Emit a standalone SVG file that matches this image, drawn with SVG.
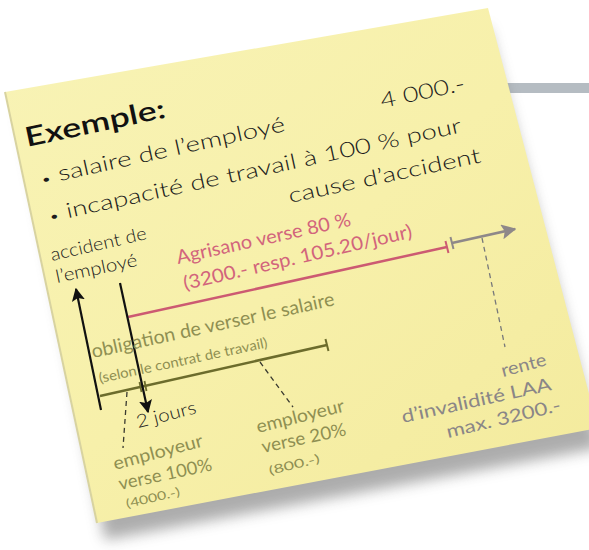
<svg xmlns="http://www.w3.org/2000/svg" width="589" height="550" viewBox="0 0 589 550">
<defs>
<linearGradient id="paper" x1="0" y1="0" x2="1" y2="1">
<stop offset="0" stop-color="#f8f3b6"/>
<stop offset="0.5" stop-color="#f7f0aa"/>
<stop offset="1" stop-color="#f3ea9c"/>
</linearGradient>
<filter id="blur" x="-20%" y="-20%" width="140%" height="140%">
<feGaussianBlur stdDeviation="7"/>
</filter>
<marker id="ahBlack" viewBox="0 0 10 10" refX="9" refY="5" markerWidth="6" markerHeight="6" orient="auto" markerUnits="strokeWidth">
<path d="M0,0 L10,5 L0,10 L2,5 Z" fill="#111"/>
</marker>
<marker id="ahGrey" viewBox="0 0 10 10" refX="9" refY="5" markerWidth="6" markerHeight="6" orient="auto" markerUnits="strokeWidth">
<path d="M0,0 L10,5 L0,10 L2,5 Z" fill="#8e8889"/>
</marker>
<style>
text{font-family:"Lato","Open Sans","DejaVu Sans",sans-serif;font-weight:300;}
.blk{fill:#1c1c1c;font-size:21px;}
.ex{fill:#111;font-size:27px;font-weight:600;}
.pink{fill:#d2647c;font-size:19px;font-weight:400;}
.olv{fill:#8f8f52;font-size:19px;font-weight:400;}
.olvs{fill:#8f8f52;font-size:14px;font-weight:400;}
.olvm{fill:#8f8f52;font-size:18px;font-weight:400;}
.olvx{fill:#8f8f52;font-size:12px;font-weight:400;}
.gry{fill:#8a8687;font-size:18px;font-weight:400;}
.bul{font-size:14px;}
.dash{fill:none;stroke:#3a3a30;stroke-width:1.3;stroke-dasharray:5 4;}
</style>
</defs>
<rect x="500" y="83" width="89" height="10" fill="#b5bcc2"/>
<g id="note">
<polygon points="20,110 488,28 600,448 105,540" fill="#6a6a6a" opacity="0.55" filter="url(#blur)"/>
<polygon points="5,92 488,8 598,428 97,523" fill="url(#paper)"/>
<polyline points="5,92 97,523" fill="none" stroke="#d8d3a0" stroke-width="2"/>
</g>
<g id="connectors">
<line x1="128" y1="317" x2="447" y2="247" stroke="#cc5a72" stroke-width="2.5"/>
<line x1="445.5" y1="241" x2="448.5" y2="253" stroke="#cc5a72" stroke-width="2"/>
<line x1="452" y1="243" x2="515" y2="229" stroke="#8e8889" stroke-width="2.5" marker-end="url(#ahGrey)"/>
<line x1="450.5" y1="237" x2="453.5" y2="249" stroke="#8e8889" stroke-width="2"/>
<line x1="100" y1="396" x2="327" y2="345" stroke="#6c6c2c" stroke-width="2.5"/>
<line x1="325.5" y1="339" x2="328.5" y2="351" stroke="#6c6c2c" stroke-width="2"/>
<line x1="139.5" y1="382" x2="141.5" y2="392" stroke="#6c6c2c" stroke-width="1.8"/>
<line x1="144.5" y1="381" x2="146.5" y2="391" stroke="#6c6c2c" stroke-width="1.8"/>
<line x1="101" y1="410" x2="76" y2="289" stroke="#111" stroke-width="2.2" marker-end="url(#ahBlack)"/>
<line x1="120" y1="283" x2="148" y2="412" stroke="#111" stroke-width="2.2" marker-end="url(#ahBlack)"/>
<line class="dash" x1="127" y1="392" x2="123" y2="448"/>
<line class="dash" x1="260" y1="362" x2="293" y2="407"/>
<line class="dash" x1="482" y1="238" x2="505" y2="347" style="stroke:#77787a"/>
</g>
<g id="title">
<text class="ex" x="27" y="147" transform="rotate(-12 27 147)" textLength="143" lengthAdjust="spacingAndGlyphs">Exemple:</text>
<text class="blk" x="382" y="108" transform="rotate(-12 382 108)" textLength="86" lengthAdjust="spacingAndGlyphs">4 000.-</text>
</g>
<g id="facts">
<text class="blk" x="42" y="185" transform="rotate(-12.5 42 185)" textLength="250" lengthAdjust="spacingAndGlyphs"><tspan class="bul">•</tspan> salaire de l’employé</text>
<text class="blk" x="50" y="222" transform="rotate(-12.3 50 222)" textLength="422" lengthAdjust="spacingAndGlyphs"><tspan class="bul">•</tspan> incapacité de travail à 100 % pour</text>
<text class="blk" x="290" y="203" transform="rotate(-12 290 203)" textLength="196" lengthAdjust="spacingAndGlyphs">cause d’accident</text>
</g>
<g id="accident">
<text class="blk" style="font-size:18px" x="52" y="261" transform="rotate(-13 52 261)" textLength="98" lengthAdjust="spacingAndGlyphs">accident de</text>
<text class="blk" style="font-size:18px" x="57" y="283" transform="rotate(-12 57 283)" textLength="83" lengthAdjust="spacingAndGlyphs">l’employé</text>
</g>
<g id="agrisano">
<text class="pink" x="178" y="264" transform="rotate(-12.5 178 264)" textLength="178" lengthAdjust="spacingAndGlyphs">Agrisano verse 80 %</text>
<text class="pink" x="185" y="290" transform="rotate(-13 185 290)" textLength="234" lengthAdjust="spacingAndGlyphs">(3200.- resp. 105.20/jour)</text>
</g>
<g id="obligation">
<text class="olv" x="93" y="358" transform="rotate(-12.3 93 358)" textLength="248" lengthAdjust="spacingAndGlyphs">obligation de verser le salaire</text>
<text class="olvs" x="100" y="383" transform="rotate(-12 100 383)" textLength="172" lengthAdjust="spacingAndGlyphs">(selon le contrat de travail)</text>
</g>
<g id="deux-jours">
<text class="blk" style="font-size:18px" x="138" y="428" transform="rotate(-14 138 428)" textLength="61" lengthAdjust="spacingAndGlyphs">2 jours</text>
</g>
<g id="employeur100">
<text class="olvm" x="115" y="470" transform="rotate(-15 115 470)" textLength="92" lengthAdjust="spacingAndGlyphs">employeur</text>
<text class="olvm" x="120" y="490" transform="rotate(-12 120 490)" textLength="95" lengthAdjust="spacingAndGlyphs">verse 100%</text>
<text class="olvx" x="127" y="508" transform="rotate(-13 127 508)" textLength="55" lengthAdjust="spacingAndGlyphs">(4000.-)</text>
</g>
<g id="employeur20">
<text class="olvm" x="258" y="433" transform="rotate(-14 258 433)" textLength="90" lengthAdjust="spacingAndGlyphs">employeur</text>
<text class="olvm" x="263" y="453" transform="rotate(-12 263 453)" textLength="86" lengthAdjust="spacingAndGlyphs">verse 20%</text>
<text class="olvx" x="270" y="475" transform="rotate(-14 270 475)" textLength="52" lengthAdjust="spacingAndGlyphs">(800.-)</text>
</g>
<g id="rente">
<text class="gry" x="503" y="377" transform="rotate(-15 503 377)" textLength="46" lengthAdjust="spacingAndGlyphs">rente</text>
<text class="gry" x="403" y="423" transform="rotate(-12.5 403 423)" textLength="153" lengthAdjust="spacingAndGlyphs">d’invalidité LAA</text>
<text class="gry" x="448" y="438" transform="rotate(-13.5 448 438)" textLength="117" lengthAdjust="spacingAndGlyphs">max. 3200.-</text>
</g>
</svg>
